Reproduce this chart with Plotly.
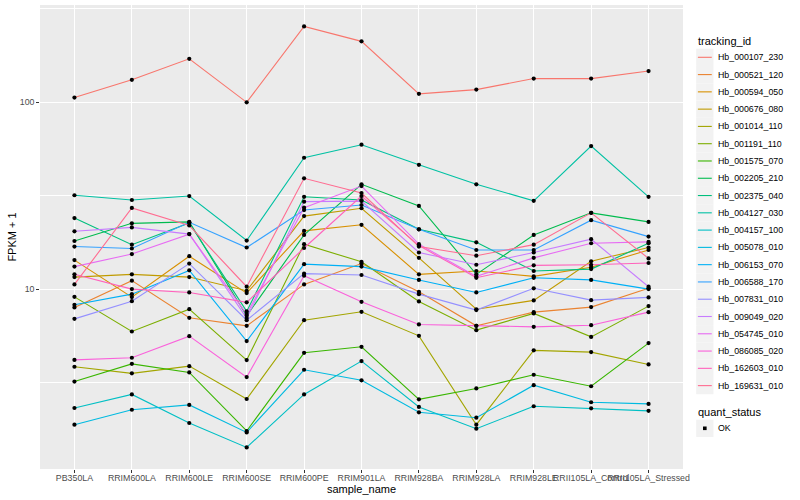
import plotly.graph_objects as go

# ---------------- data (FPKM + 1) ----------------
samples = ["PB350LA", "RRIM600LA", "RRIM600LE", "RRIM600SE", "RRIM600PE",
           "RRIM901LA", "RRIM928BA", "RRIM928LA", "RRIM928LE",
           "RRII105LA_Control", "RRII105LA_Stressed"]

tracking_ids = ["Hb_000107_230", "Hb_000521_120", "Hb_000594_050", "Hb_000676_080",
                "Hb_001014_110", "Hb_001191_110", "Hb_001575_070", "Hb_002205_210",
                "Hb_002375_040", "Hb_004127_030", "Hb_004157_100", "Hb_005078_010",
                "Hb_006153_070", "Hb_006588_170", "Hb_007831_010", "Hb_009049_020",
                "Hb_054745_010", "Hb_086085_020", "Hb_162603_010", "Hb_169631_010"]

colors = ["#F8766D", "#EA8331", "#D89000", "#C09B00", "#A3A500", "#7CAE00",
          "#39B600", "#00BB4E", "#00BF7D", "#00C1A3", "#00BFC4", "#00BAE0",
          "#00B0F6", "#35A2FF", "#9590FF", "#C77CFF", "#E76BF3", "#FA62DB",
          "#FF62BC", "#FF6C91"]

hb_000107_230 = [106, 132, 171, 100, 255, 212, 111, 117, 134, 134, 147]
hb_000521_120 = [7.98, 11.1, 7.02, 6.36, 10.6, 13.7, 9.67, 6.36, 7.53, 8.01, 10.1]
hb_000594_050 = [14.3, 9.06, 15.0, 9.52, 20.5, 22.1, 12.0, 12.5, 11.7, 13.1, 16.2]
hb_000676_080 = [11.6, 12.0, 11.6, 9.8, 24.6, 27.1, 14.7, 7.8, 8.7, 14.1, 16.7]
hb_001014_110 = [3.84, 3.54, 3.87, 2.58, 6.82, 7.56, 5.62, 1.88, 4.70, 4.60, 3.95]
hb_001191_110 = [9.09, 5.93, 7.81, 4.17, 17.4, 14.0, 8.59, 6.03, 7.41, 5.55, 8.11]
hb_001575_070 = [3.20, 3.98, 3.58, 1.74, 4.56, 4.91, 2.57, 2.94, 3.48, 3.02, 5.14]
hb_002205_210 = [18.1, 22.5, 22.9, 7.2, 19.5, 36.4, 27.9, 12.0, 19.5, 25.6, 22.9]
hb_002375_040 = [24.0, 17.3, 22.6, 7.6, 31.2, 30.0, 20.9, 17.8, 12.5, 12.8, 17.6]
hb_004127_030 = [31.8, 30.0, 31.5, 18.2, 50.5, 59.3, 46.3, 36.4, 29.7, 58.3, 31.2]
hb_004157_100 = [2.31, 2.73, 1.92, 1.42, 2.73, 4.12, 2.34, 1.79, 2.36, 2.30, 2.23]
hb_005078_010 = [1.88, 2.26, 2.40, 1.71, 3.70, 3.25, 2.19, 2.05, 3.06, 2.48, 2.43]
hb_006153_070 = [8.24, 9.4, 12.6, 5.27, 13.6, 13.2, 11.2, 9.6, 11.5, 11.2, 10.0]
hb_006588_170 = [16.9, 16.5, 22.8, 16.7, 26.5, 28.2, 20.9, 16.2, 16.2, 23.4, 19.1]
hb_007831_010 = [6.93, 8.62, 13.7, 6.82, 12.1, 11.9, 9.4, 7.72, 10.1, 8.73, 9.03]
hb_009049_020 = [20.4, 21.4, 19.7, 7.0, 29.4, 29.6, 15.7, 13.5, 15.7, 18.5, 10.3]
hb_054745_010 = [13.2, 15.4, 19.7, 7.35, 27.3, 35.6, 17.4, 11.7, 14.7, 17.6, 17.9]
hb_086085_020 = [4.18, 4.29, 5.6, 3.38, 11.8, 8.55, 6.47, 6.36, 6.28, 6.41, 7.53]
hb_162603_010 = [12.0, 10.0, 9.6, 8.5, 16.6, 31.5, 17.1, 11.5, 13.4, 13.5, 13.8]
hb_169631_010 = [10.6, 27.2, 21.9, 10.3, 39.2, 32.7, 16.9, 15.1, 17.3, 25.6, 14.6]

series = [hb_000107_230, hb_000521_120, hb_000594_050, hb_000676_080, hb_001014_110,
          hb_001191_110, hb_001575_070, hb_002205_210, hb_002375_040, hb_004127_030,
          hb_004157_100, hb_005078_010, hb_006153_070, hb_006588_170, hb_007831_010,
          hb_009049_020, hb_054745_010, hb_086085_020, hb_162603_010, hb_169631_010]

quant_status = ["OK"]
y_tick_vals = [10, 100]
y_tick_text = ["10", "100"]

# ---------------- figure ----------------
W, H = 800, 500
ML, MR, MT, MB = 40, 116.5, 5, 31
PW, PH = W - ML - MR, H - MT - MB
FONT = "Liberation Sans, Arial, Helvetica, sans-serif"


def px(x):
    return (x - ML) / PW


def py(y):
    return 1 - (y - MT) / PH


fig = go.Figure()

for name, col, vals in zip(tracking_ids, colors, series):
    fig.add_trace(go.Scatter(x=samples, y=vals, mode="lines", name=name,
                             line=dict(color=col, width=1.1), showlegend=False,
                             hoverinfo="x+y+name"))

all_x = [s for vals in series for s in samples]
all_y = [v for vals in series for v in vals]
fig.add_trace(go.Scatter(x=all_x, y=all_y, mode="markers", name=quant_status[0],
                         marker=dict(color="black", size=4.2), showlegend=False))

shapes = []
annotations = []

# legend: tracking_id
LX = 696.7
KEY = 17.28
annotations.append(dict(text="tracking_id", x=px(LX), y=py(40.7), xref="paper", yref="paper",
                        xanchor="left", yanchor="middle", showarrow=False,
                        font=dict(size=11, color="black", family=FONT)))
for i, (name, col) in enumerate(zip(tracking_ids, colors)):
    cy = 57.3 + i * KEY
    shapes.append(dict(type="rect", xref="paper", yref="paper",
                       x0=px(LX), x1=px(LX + KEY), y0=py(cy - KEY / 2), y1=py(cy + KEY / 2),
                       fillcolor="#F2F2F2", line=dict(width=0), layer="above"))
    shapes.append(dict(type="line", xref="paper", yref="paper",
                       x0=px(LX + 1.7), x1=px(LX + KEY - 1.7), y0=py(cy), y1=py(cy),
                       line=dict(color=col, width=1.1), layer="above"))
    annotations.append(dict(text=name, x=px(LX + 20), y=py(cy), xref="paper", yref="paper",
                            xanchor="left", yanchor="middle", showarrow=False,
                            font=dict(size=8.8, color="black", family=FONT)))

# legend: quant_status
annotations.append(dict(text="quant_status", x=px(LX), y=py(411.7), xref="paper", yref="paper",
                        xanchor="left", yanchor="middle", showarrow=False,
                        font=dict(size=11, color="black", family=FONT)))
cy = 428.3
shapes.append(dict(type="rect", xref="paper", yref="paper",
                   x0=px(LX), x1=px(LX + KEY), y0=py(cy - KEY / 2), y1=py(cy + KEY / 2),
                   fillcolor="#F2F2F2", line=dict(width=0), layer="above"))
shapes.append(dict(type="rect", xref="paper", yref="paper",
                   x0=px(LX + KEY / 2 - 1.8), x1=px(LX + KEY / 2 + 1.8),
                   y0=py(cy - 1.8), y1=py(cy + 1.8),
                   fillcolor="black", line=dict(width=0), layer="above"))
annotations.append(dict(text=quant_status[0], x=px(LX + 20), y=py(cy), xref="paper", yref="paper",
                        xanchor="left", yanchor="middle", showarrow=False,
                        font=dict(size=8.8, color="black", family=FONT)))

fig.update_layout(
    width=W, height=H,
    margin=dict(l=ML, r=MR, t=MT, b=MB, autoexpand=False),
    paper_bgcolor="white", plot_bgcolor="#EBEBEB",
    font=dict(family=FONT, color="black"),
    showlegend=False,
    shapes=shapes, annotations=annotations,
    xaxis=dict(type="category", categoryorder="array", categoryarray=samples,
               range=[-0.6, len(samples) - 0.4],
               showgrid=True, gridcolor="white", gridwidth=1.07, zeroline=False,
               showline=False, ticks="outside", ticklen=2.75, tickwidth=1.07,
               tickcolor="#333333", tickangle=0, ticklabelstandoff=-2,
               tickfont=dict(size=8.8, color="#4D4D4D", family=FONT),
               title=dict(text="sample_name", font=dict(size=11, color="black", family=FONT),
                          standoff=1),
               automargin=False),
    yaxis=dict(type="log", range=[0.037, 2.521],
               tickmode="array", tickvals=y_tick_vals, ticktext=y_tick_text,
               showgrid=True, gridcolor="white", gridwidth=1.07, zeroline=False,
               showline=False, ticks="outside", ticklen=2.75, tickwidth=1.07,
               tickcolor="#333333",
               tickfont=dict(size=8.8, color="#4D4D4D", family=FONT),
               minor=dict(tickmode="array", tickvals=[10 ** 0.5, 10 ** 1.5, 10 ** 2.5],
                          showgrid=True, gridcolor="white", gridwidth=0.55, ticks=""),
               title=dict(text="FPKM + 1", font=dict(size=11, color="black", family=FONT),
                          standoff=0),
               automargin=False),
)

fig.write_html("out.html",
               config={"displayModeBar": False},
               post_script="document.body.style.margin='0px';"
                           "document.body.style.overflow='hidden';")
